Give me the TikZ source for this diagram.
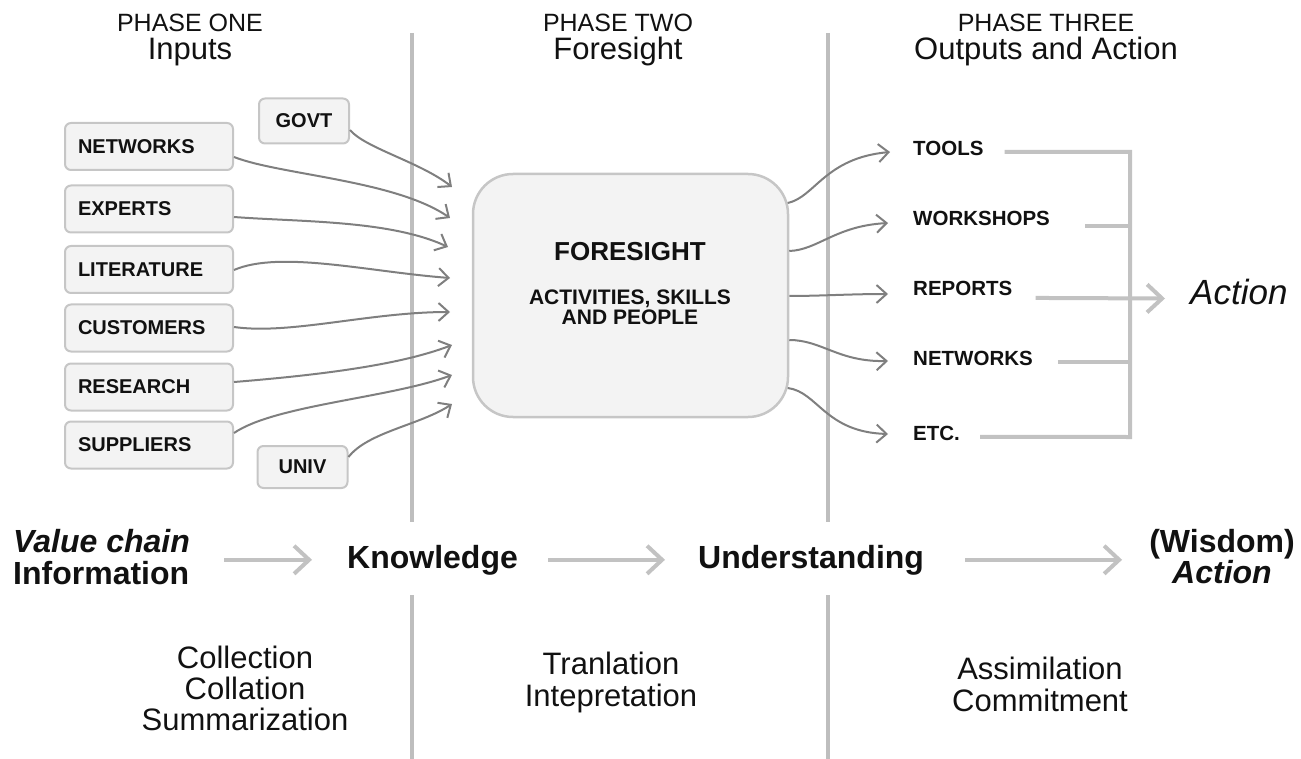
\documentclass[tikz,border=0pt]{standalone}
\usepackage{fontspec}
\setmainfont{Liberation Sans}
\usetikzlibrary{arrows.meta,calc}
\definecolor{boxfill}{HTML}{F3F3F3}
\definecolor{boxline}{HTML}{C6C6C6}
\definecolor{arrgray}{HTML}{7F7F7F}
\definecolor{lightline}{HTML}{C2C2C2}
\definecolor{divline}{HTML}{BEBEBE}
\definecolor{ink}{HTML}{111111}
\begin{document}
\begin{tikzpicture}[x=1pt,y=-1pt,
 every node/.style={text=ink},
 inbox/.style={draw=boxline, line width=2pt, fill=boxfill, rounded corners=6pt, minimum height=47pt, text width=142pt, inner xsep=13pt, inner ysep=0pt, align=left, font=\fontsize{20}{22}\selectfont\bfseries},
 tagbox/.style={draw=boxline, line width=2pt, fill=boxfill, rounded corners=6pt, minimum width=90pt, minimum height=45pt, font=\fontsize{20}{22}\selectfont\bfseries},
 bigbox/.style={draw=boxline, line width=2.5pt, fill=boxfill, rounded corners=40pt, minimum width=315pt, minimum height=243pt},
 outlabel/.style={anchor=base west, inner sep=0pt, font=\fontsize{20.5}{22}\selectfont\bfseries},
 inarrow/.style={draw=arrgray, line width=2pt, -{Straight Barb[length=10pt,width=18pt]}},
 flow/.style={draw=lightline, line width=4pt, -{Straight Barb[length=15pt,width=28pt]}},
 bracket/.style={draw=lightline, line width=4pt},
 divider/.style={draw=divline, line width=3.5pt},
 phase/.style={anchor=base, inner sep=0pt, font=\fontsize{25}{25}\selectfont},
 title/.style={anchor=base, inner sep=0pt, font=\fontsize{31}{31}\selectfont},
 stage/.style={anchor=base west, inner sep=0pt, font=\fontsize{32}{32}\selectfont\bfseries},
 desc/.style={anchor=base, inner sep=0pt, font=\fontsize{31}{31}\selectfont},
]
\useasboundingbox (0,0) rectangle (1301,759);

% dividers
\draw[divider] (412,33) -- (412,522);
\draw[divider] (412,595) -- (412,759);
\draw[divider] (828,33) -- (828,522);
\draw[divider] (828,595) -- (828,759);

% headers
\node[phase] (p1) at (190,32) {PHASE ONE};
\node[title] (h1) at (190,60) {Inputs};
\node[phase] (p2) at (618,32) {PHASE TWO};
\node[title] (h2) at (618,60) {Foresight};
\node[phase] (p3) at (1046,32) {PHASE THREE};
\node[title] (h3) at (1046,60) {Outputs and Action};

% input boxes
\node[inbox] (netw) at (149,146.5) {NETWORKS};
\node[inbox] (expe) at (149,209) {EXPERTS};
\node[inbox] (lite) at (149,269.5) {LITERATURE};
\node[inbox] (cust) at (149,328) {CUSTOMERS};
\node[inbox] (rese) at (149,387) {RESEARCH};
\node[inbox] (supp) at (149,445) {SUPPLIERS};
\node[tagbox] (govt) at (304,121) {GOVT};
\node[tagbox, minimum height=42pt] (univ) at (302.5,467) {UNIV};

% foresight box
\node[bigbox] (fs) at (630.5,295.5) {};
\node[font=\fontsize{26}{26}\selectfont\bfseries, inner sep=0pt] (fst) at (630,251.5) {FORESIGHT};
\node[font=\fontsize{21}{20}\selectfont\bfseries, inner sep=0pt, align=center] (fss) at (630,307) {ACTIVITIES, SKILLS\\AND PEOPLE};

% input arrow tips
\coordinate (t1) at (452,187);
\coordinate (t2) at (450,218);
\coordinate (t3) at (448,247);
\coordinate (t4) at (450,278);
\coordinate (t5) at (450,312);
\coordinate (t6) at (452,345);
\coordinate (t7) at (452,375);
\coordinate (t8) at (452,404);

\draw[inarrow] ($(govt.east)+(0,9)$) .. controls (365,148) and (420,162) .. (t1);
\draw[inarrow] ($(netw.east)+(0,10.5)$) .. controls (280,175) and (395,180) .. (t2);
\draw[inarrow] ($(expe.east)+(0,8)$) .. controls (300,222) and (390,220) .. (t3);
\draw[inarrow] ($(lite.east)+(0,0.5)$) .. controls (280,250) and (370,272) .. (t4);
\draw[inarrow] ($(cust.east)+(0,-1)$) .. controls (290,335) and (370,312) .. (t5);
\draw[inarrow] ($(rese.east)+(0,-5)$) .. controls (320,375) and (400,365) .. (t6);
\draw[inarrow] ($(supp.east)+(0,-12)$) .. controls (275,405) and (390,398) .. (t7);
\draw[inarrow] ($(univ.east)+(0,-10)$) .. controls (368,432) and (420,425) .. (t8);

% output labels
\node[outlabel] (tools) at (913,156) {TOOLS};
\node[outlabel] (work) at (913,226) {WORKSHOPS};
\node[outlabel] (repo) at (913,296) {REPORTS};
\node[outlabel] (netw2) at (913,365) {NETWORKS};
\node[outlabel] (etc) at (913,440) {ETC.};

\coordinate (r1) at (890,152);
\coordinate (r2) at (888,223);
\coordinate (r3) at (888,294);
\coordinate (r4) at (888,361);
\coordinate (r5) at (888,434);

\draw[inarrow] ($(fs.east)+(-1.5,-92.5)$) .. controls (815,197) and (825,158) .. (r1);
\draw[inarrow] ($(fs.east)+(0,-44.5)$) .. controls (818,250) and (835,226) .. (r2);
\draw[inarrow] ($(fs.east)+(0,0.5)$) .. controls (820,296) and (850,294) .. (r3);
\draw[inarrow] ($(fs.east)+(0,44.5)$) .. controls (822,340) and (838,362) .. (r4);
\draw[inarrow] ($(fs.east)+(-1.5,92.5)$) .. controls (818,392) and (825,432) .. (r5);

% bracket
\coordinate (b1) at (1130,152);
\coordinate (b5) at (1130,437);
\node[anchor=base west, inner sep=0pt, font=\fontsize{35}{35}\selectfont\itshape] (action) at (1190,305) {Action};
\draw[bracket] ($(tools.east)+(21,3)$) -- (b1) -- (b5) -- ($(etc.east)+(20,4)$);
\draw[bracket] ($(work.east)+(35,7)$) -- ($(work.east -| b1)+(0,7)$);
\draw[bracket] ($(netw2.east)+(25,4)$) -- ($(netw2.east -| b1)+(0,4)$);
\draw[flow] ($(repo.east)+(23,9)$) -- ($(action.west)+(-25,6)$);

% bottom row
\node[stage, font=\fontsize{32}{32}\selectfont\bfseries\itshape] (vc) at (13,552) {Value chain};
\node[stage] (inf) at (13,584) {Information};
\node[stage] (know) at (347,568) {Knowledge};
\node[stage] (und) at (698,568) {Understanding};
\node[stage, anchor=base] (wis) at (1222,552) {(Wisdom)};
\node[stage, anchor=base, font=\fontsize{32}{32}\selectfont\bfseries\itshape] (act2) at (1222,583) {Action};

\draw[flow] ($(inf.east |- know.west)+(35,0)$) -- ($(know.west)+(-35,0)$);
\draw[flow] ($(know.east)+(30,0)$) -- ($(und.west)+(-33,0)$);
\draw[flow] ($(und.east)+(41,0)$) -- ($(wis.west |- und.east)+(-27,0)$);

% descriptions
\node[desc] (c1) at (245,668) {Collection};
\node[desc] (c2) at (245,699) {Collation};
\node[desc] (c3) at (245,730) {Summarization};
\node[desc] (d1) at (611,674) {Tranlation};
\node[desc] (d2) at (611,706) {Intepretation};
\node[desc] (e1) at (1040,679) {Assimilation};
\node[desc] (e2) at (1040,711) {Commitment};
\end{tikzpicture}
\end{document}
